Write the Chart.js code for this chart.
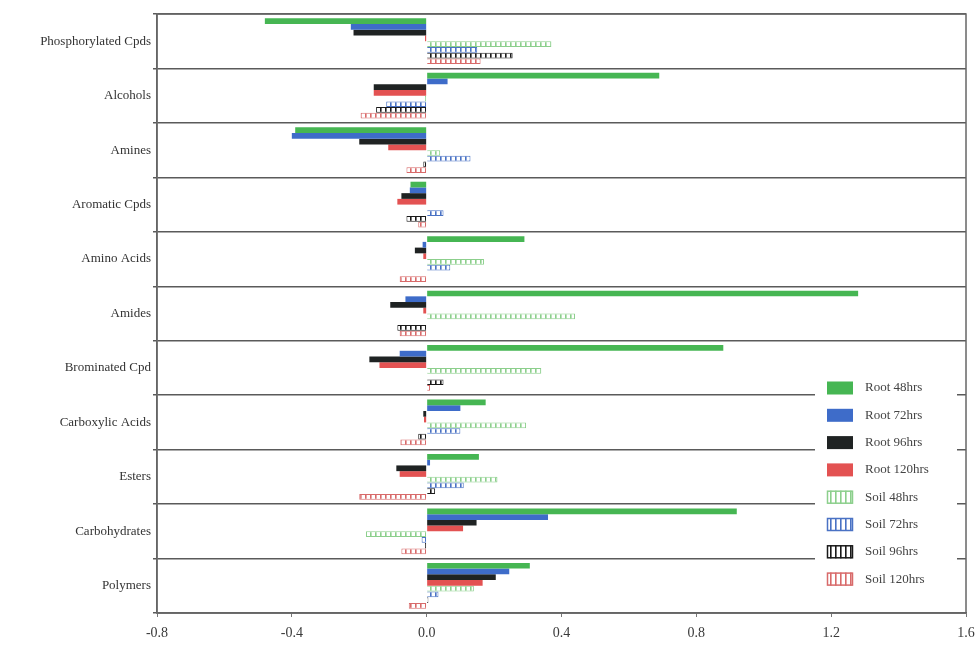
<!DOCTYPE html>
<html>
<head>
<meta charset="utf-8">
<script src="https://cdn.jsdelivr.net/npm/chart.js@4.4.1/dist/chart.umd.min.js"></script>
<style>
  html, body { margin: 0; padding: 0; background: #ffffff; }
  #wrap { width: 979px; height: 645px; position: relative; }
</style>
</head>
<body>
<div id="wrap"><canvas id="c" width="979" height="645"></canvas></div>
<script>
const categories = ["Phosphorylated Cpds", "Alcohols", "Amines", "Aromatic Cpds", "Amino Acids", "Amides",
  "Brominated Cpd", "Carboxylic Acids", "Esters", "Carbohydrates", "Polymers"];
const seriesLabels = ["Root 48hrs", "Root 72hrs", "Root 96hrs", "Root 120hrs", "Soil 48hrs", "Soil 72hrs", "Soil 96hrs", "Soil 120hrs"];
const root48  = [-0.48, 0.69, -0.39, -0.048, 0.29, 1.28, 0.88, 0.175, 0.155, 0.92, 0.306];
const root72  = [-0.225, 0.062, -0.40, -0.05, -0.012, -0.063, -0.08, 0.10, 0.01, 0.36, 0.245];
const root96  = [-0.217, -0.157, -0.20, -0.075, -0.035, -0.108, -0.17, -0.01, -0.09, 0.148, 0.205];
const root120 = [-0.005, -0.157, -0.114, -0.087, -0.01, -0.01, -0.14, -0.008, -0.08, 0.108, 0.166];
const soil48  = [0.37, -0.005, 0.04, 0.0, 0.17, 0.44, 0.34, 0.295, 0.21, -0.18, 0.14];
const soil72  = [0.15, -0.12, 0.13, 0.05, 0.07, 0.0, 0.0, 0.10, 0.11, -0.015, 0.035];
const soil96  = [0.255, -0.15, -0.01, -0.06, 0.0, -0.087, 0.05, -0.025, 0.025, -0.005, 0.005];
const soil120 = [0.16, -0.196, -0.06, -0.025, -0.08, -0.08, 0.01, -0.078, -0.20, -0.075, -0.053];
const xTicks = [-0.8, -0.4, 0.0, 0.4, 0.8, 1.2, 1.6];

function stripes(lineColor) {
  const c = document.createElement('canvas');
  c.width = 5; c.height = 10;
  const g = c.getContext('2d');
  g.fillStyle = '#ffffff';
  g.fillRect(0, 0, 5, 10);
  g.fillStyle = lineColor;
  g.fillRect(0, 0, 1.6, 10);
  return g.createPattern(c, 'repeat');
}

const styles = [
  { bg: '#46b653', border: '#46b653' },
  { bg: '#3e6cc9', border: '#3e6cc9' },
  { bg: '#1f2323', border: '#1f2323' },
  { bg: '#e35252', border: '#e35252' },
  { bg: stripes('#8ccf8c'), border: '#8ccf8c' },
  { bg: stripes('#4a72c4'), border: '#4a72c4' },
  { bg: stripes('#1a1a1a'), border: '#1a1a1a' },
  { bg: stripes('#d86a6a'), border: '#d86a6a' }
];
const values = [root48, root72, root96, root120, soil48, soil72, soil96, soil120];

const datasets = values.map((v, i) => ({
  label: seriesLabels[i],
  data: v,
  backgroundColor: styles[i].bg,
  borderColor: styles[i].border,
  borderWidth: i >= 4 ? 1 : 0,
  barPercentage: 1.0,
  categoryPercentage: 0.84
}));

const framePlugin = {
  id: 'frame',
  afterDraw(chart) {
    const { ctx, chartArea: a } = chart;
    ctx.save();
    ctx.strokeStyle = '#666666';
    ctx.lineWidth = 1.5;
    ctx.strokeRect(a.left, a.top, a.right - a.left, a.bottom - a.top);
    // legend
    const lx = 815, ly = 372, lw = 142, lh = 218;
    ctx.fillStyle = '#ffffff';
    ctx.fillRect(lx, ly, lw, lh);
    ctx.font = '13px "Liberation Serif", "DejaVu Serif", serif';
    ctx.textBaseline = 'middle';
    ctx.textAlign = 'left';
    chart.data.datasets.forEach((ds, i) => {
      const cy = 388 + i * 27.3;
      ctx.fillStyle = ds.backgroundColor;
      ctx.fillRect(827, cy - 6.5, 26, 13);
      if (i >= 4) {
        ctx.strokeStyle = ds.borderColor;
        ctx.lineWidth = 1.5;
        ctx.strokeRect(827.5, cy - 6, 25, 12);
      }
      ctx.fillStyle = '#444444';
      ctx.fillText(ds.label, 865, cy);
    });
    ctx.restore();
  }
};

new Chart(document.getElementById('c'), {
  type: 'bar',
  data: { labels: categories, datasets },
  options: {
    indexAxis: 'y',
    responsive: false,
    animation: false,
    layout: { padding: { left: 0, right: 13, top: 14, bottom: 0 } },
    plugins: { legend: { display: false }, tooltip: { enabled: false } },
    scales: {
      x: {
        type: 'linear',
        min: -0.8, max: 1.6,
        afterFit(s) { s.height = 32; s.paddingRight = 0; s.paddingLeft = 0; },
        afterBuildTicks(s) { s.ticks = xTicks.map(v => ({ value: v })); },
        ticks: {
          callback: v => Number(v).toFixed(1),
          color: '#3a3a3a',
          font: { family: '"Liberation Serif", "DejaVu Serif", serif', size: 14 },
          padding: 8,
          maxRotation: 0
        },
        grid: { display: true, drawOnChartArea: false, tickLength: 4, color: '#777777' },
        border: { display: true, color: '#666666', width: 1.5 }
      },
      y: {
        afterFit(s) { s.width = 157; },
        ticks: {
          color: '#333333',
          font: { family: '"Liberation Serif", "DejaVu Serif", serif', size: 13 },
          padding: 2
        },
        grid: { display: true, offset: true, color: '#5a5a5a', lineWidth: 1.5, tickLength: 4 },
        border: { display: true, color: '#666666', width: 1.5 }
      }
    }
  },
  plugins: [framePlugin]
});
</script>
</body>
</html>
